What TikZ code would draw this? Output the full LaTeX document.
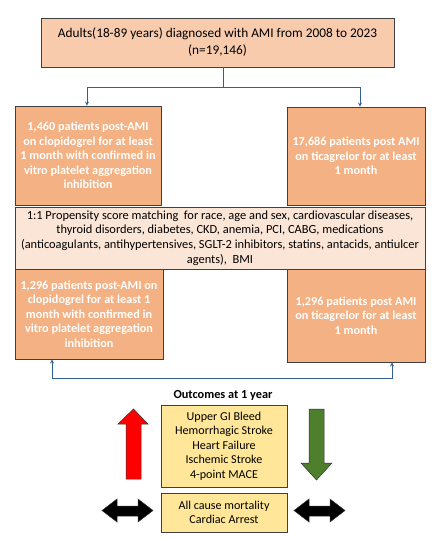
\documentclass[tikz,border=0pt]{standalone}
\usepackage{fontspec}
\setmainfont{Carlito}
\usetikzlibrary{arrows}
\definecolor{toporange}{HTML}{F8CBAD}
\definecolor{midorange}{HTML}{F4B183}
\definecolor{paleorange}{HTML}{FBE5D6}
\definecolor{outgold}{HTML}{FFE699}
\definecolor{linkblue}{HTML}{2F6090}
\definecolor{upred}{HTML}{FF0000}
\definecolor{downgreen}{HTML}{4E7F2C}
\begin{document}
\begin{tikzpicture}[x=1pt,y=-1pt,>=stealth,
    box/.style={draw=black!75,line width=0.8pt,align=center,inner sep=2pt,
      font=\fontsize{12.4}{14.7}\selectfont},
    cohort/.style={box,fill=midorange,text=white,font=\bfseries\fontsize{12.2}{14.4}\selectfont},
    outcome/.style={box,fill=outgold,font=\fontsize{12.1}{14.5}\selectfont},
    link/.style={draw=linkblue,line width=0.8pt},
    blockarrow/.style={draw=black!80,line width=0.5pt}]
  \useasboundingbox (0,0) rectangle (440,540);
  % population
  \node (pop) [box,fill=toporange,minimum width=353pt,minimum height=49pt,
    font=\fontsize{13.3}{17}\selectfont] at (217.5,42.5)
    {Adults(18-89 years) diagnosed with AMI from 2008 to 2023\\(n=19,146)};
  % cohorts before matching
  \node (clopi) [cohort,minimum width=146pt,minimum height=99pt] at (88,155.5)
    {1,460 patients post-AMI\\on clopidogrel for at least\\1 month with confirmed in\\vitro platelet aggregation\\inhibition};
  \node (tica) [cohort,minimum width=138pt,minimum height=98pt] at (356,156)
    {17,686 patients post AMI\\on ticagrelor for at least\\1 month};
  % matching
  \node (psm) [box,fill=paleorange,minimum width=410pt,minimum height=62pt] at (220,238)
    {1:1 Propensity score matching\ \ for race, age and sex, cardiovascular diseases,\\
     thyroid disorders, diabetes, CKD, anemia, PCI, CABG, medications\\
     (anticoagulants, antihypertensives, SGLT-2 inhibitors, statins, antacids, antiulcer\\
     agents),\ \ BMI};
  % matched cohorts
  \node (clopim) [cohort,minimum width=148pt,minimum height=90pt] at (89,314)
    {1,296 patients post-AMI on\\clopidogrel for at least 1\\month with confirmed in\\vitro platelet aggregation\\inhibition};
  \node (ticam) [cohort,minimum width=138pt,minimum height=93pt] at (356,315.5)
    {1,296 patients post AMI\\on ticagrelor for at least\\1 month};
  % outcomes
  \node (title) [font=\bfseries\fontsize{12.3}{15}\selectfont] at (223,395) {Outcomes at 1 year};
  \node (outA) [outcome,minimum width=126pt,minimum height=82pt] at (224,446)
    {Upper GI Bleed\\Hemorrhagic Stroke\\Heart Failure\\Ischemic Stroke\\4-point MACE};
  \node (outB) [outcome,minimum width=126pt,minimum height=39pt] at (224,512.5)
    {All cause mortality\\Cardiac Arrest};

  \coordinate (fork) at (223,87);
  \coordinate (join) at (223,378);
  \draw[link] (fork |- pop.south) -- (fork);
  \draw[link,->] (fork) -| ([xshift=-1pt]clopi.north);
  \draw[link,->] (fork) -| ([xshift=4pt]tica.north);
  \draw[link,->] (join) -| ([xshift=-37pt]clopim.south);
  \draw[link,->] (join) -| ([xshift=36pt]ticam.south);

  % direction arrows
  \draw[blockarrow,fill=upred] (126,479) -- (126,424) -- (118,424) -- (133.5,409)
    -- (148,424) -- (141,424) -- (141,479) -- cycle;
  \draw[blockarrow,fill=downgreen] (309,409) -- (309,463) -- (301,463) -- (316.5,480)
    -- (332,463) -- (324,463) -- (324,409) -- cycle;
  \foreach \xa in {102,294}
    \draw[blockarrow,fill=black] (\xa,510.5) -- (\xa+15,499) -- (\xa+15,506)
      -- (\xa+36,506) -- (\xa+36,499) -- (\xa+51,510.5) -- (\xa+36,522)
      -- (\xa+36,516) -- (\xa+15,516) -- (\xa+15,522) -- cycle;
\end{tikzpicture}
\end{document}
